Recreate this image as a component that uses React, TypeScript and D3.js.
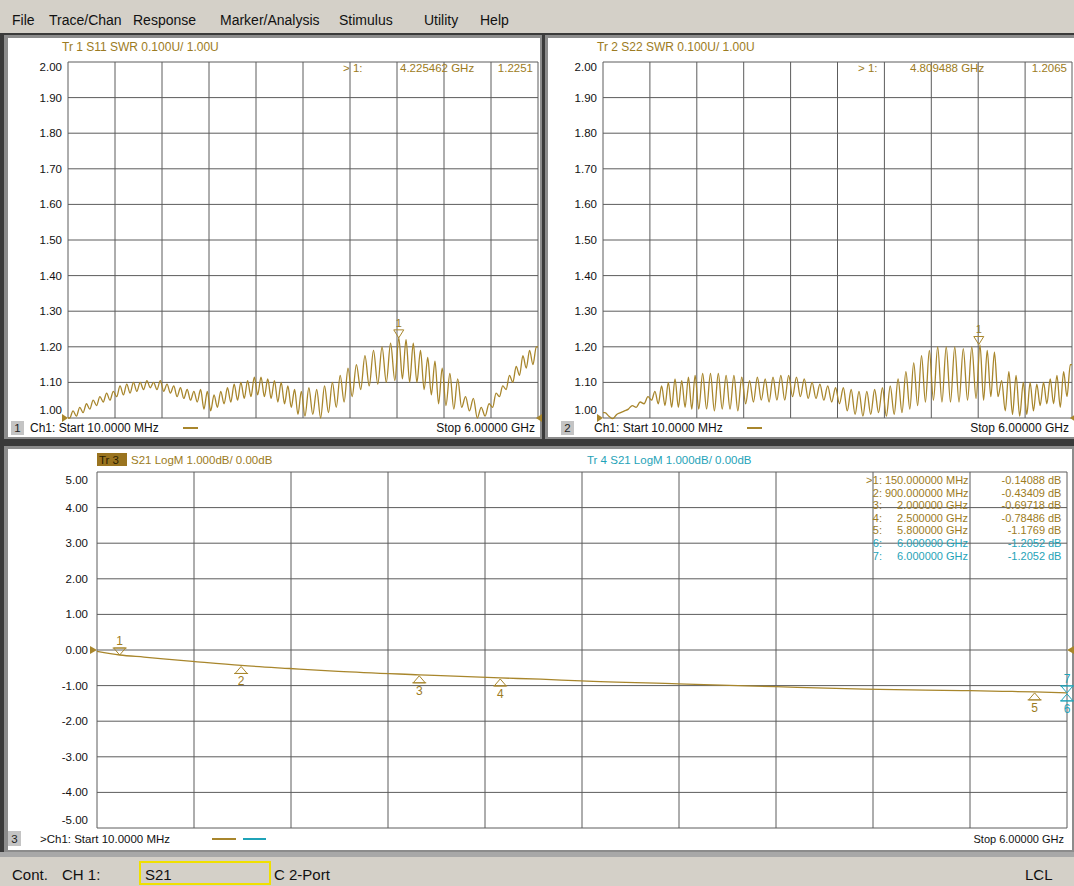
import React from 'react';
import * as d3 from 'd3';

const FONT = "'Liberation Sans', Arial, Helvetica, sans-serif";
const BROWN = '#a8862c';
const BROWN_TXT = '#9c7b22';
const CYAN = '#1fa3b8';
const GRID = '#5c5c5c';

const menuItems = ['File', 'Trace/Chan', 'Response', 'Marker/Analysis', 'Stimulus', 'Utility', 'Help'];

const startGHz = 0.01;
const stopGHz = 6.0;

const swrTicks = [2.0, 1.9, 1.8, 1.7, 1.6, 1.5, 1.4, 1.3, 1.2, 1.1, 1.0];
const dbTicks = [5, 4, 3, 2, 1, 0, -1, -2, -3, -4, -5];

// S11 SWR: peaks / valleys read per grid division
const s11Start = 1.0;
const s11End = 1.2;
const s11Divs = [
  [1.0, 1.02, 1.005, 1.03, 1.015, 1.04, 1.025, 1.05, 1.035, 1.06, 1.045, 1.07, 1.05, 1.075],
  [1.06, 1.09, 1.065, 1.095, 1.07, 1.1, 1.075, 1.1, 1.08, 1.105, 1.085, 1.1, 1.08, 1.105],
  [1.075, 1.095, 1.07, 1.09, 1.06, 1.085, 1.055, 1.08, 1.05, 1.075, 1.045, 1.08, 1.025, 1.075],
  [1.02, 1.065, 1.03, 1.075, 1.04, 1.085, 1.045, 1.095, 1.05, 1.1, 1.055, 1.105, 1.06, 1.115],
  [1.065, 1.115, 1.06, 1.11, 1.055, 1.105, 1.045, 1.1, 1.04, 1.09, 1.03, 1.08, 1.01, 1.075],
  [1.005, 1.085, 1.01, 1.08, 1.0, 1.09, 1.015, 1.1, 1.03, 1.12, 1.045, 1.14],
  [1.06, 1.15, 1.08, 1.175, 1.09, 1.19, 1.095, 1.2, 1.1, 1.21, 1.105],
  [1.225, 1.11, 1.22, 1.1, 1.21, 1.1, 1.19, 1.08, 1.17, 1.065, 1.16, 1.04, 1.14],
  [1.035, 1.125, 1.025, 1.11, 1.03, 1.06, 1.02, 1.055, 1.0, 1.03, 1.005, 1.04],
  [1.03, 1.07, 1.06, 1.09, 1.08, 1.12, 1.1, 1.145, 1.12, 1.175, 1.14, 1.19, 1.15, 1.2],
];

// S22 SWR
const s22Start = 1.015;
const s22End = 1.15;
const s22Divs = [
  [1.015, 1.005, 0.998, 1.01, 1.015, 1.02, 1.025, 1.035, 1.03, 1.045, 1.04, 1.06],
  [1.05, 1.075, 1.04, 1.09, 1.035, 1.1, 1.03, 1.11, 1.03, 1.105, 1.03, 1.115, 1.025, 1.12],
  [1.025, 1.125, 1.025, 1.125, 1.02, 1.125, 1.025, 1.12, 1.025, 1.12, 1.02, 1.115],
  [1.04, 1.105, 1.045, 1.115, 1.05, 1.11, 1.045, 1.115, 1.05, 1.12, 1.05, 1.12],
  [1.06, 1.115, 1.06, 1.11, 1.055, 1.1, 1.055, 1.095, 1.05, 1.09, 1.045, 1.085],
  [1.04, 1.085, 1.02, 1.08, 1.01, 1.075, 1.005, 1.075, 1.01, 1.08, 1.015, 1.085],
  [1.005, 1.09, 1.01, 1.11, 1.015, 1.13, 1.025, 1.155, 1.035, 1.175, 1.045, 1.19],
  [1.05, 1.2, 1.045, 1.2, 1.045, 1.2, 1.045, 1.195, 1.05, 1.2, 1.055],
  [1.205, 1.05, 1.19, 1.06, 1.185, 1.06, 1.105, 1.02, 1.13, 1.01, 1.12, 1.005, 1.1],
  [1.01, 1.1, 1.02, 1.095, 1.035, 1.1, 1.04, 1.11, 1.04, 1.12, 1.03, 1.13, 1.06, 1.15],
];

// S21 LogM trace
const s21Freq = [0.01, 0.15, 0.3, 0.6, 0.9, 1.2, 1.5, 2.0, 2.5, 2.75, 3.0, 3.6, 4.2, 4.75, 5.35, 5.6, 5.8, 6.0];
const s21Db = [-0.04, -0.14, -0.2, -0.32, -0.434, -0.52, -0.6, -0.697, -0.785, -0.82, -0.87, -0.95, -1.03, -1.1, -1.14, -1.16, -1.177, -1.205];

// markers
const s11MarkerGHz = 4.225462;
const s11MarkerVal = 1.2251;
const s22MarkerGHz = 4.809488;
const s22MarkerVal = 1.2065;

const mkIdx = ['1', '2', '3', '4', '5', '6', '7'];
const mkFreqTxt = ['150.000000', '900.000000', '2.000000', '2.500000', '5.800000', '6.000000', '6.000000'];
const mkUnit = ['MHz', 'MHz', 'GHz', 'GHz', 'GHz', 'GHz', 'GHz'];
const mkValTxt = ['-0.14088', '-0.43409', '-0.69718', '-0.78486', '-1.1769', '-1.2052', '-1.2052'];
const mkGHz = [0.15, 0.9, 2.0, 2.5, 5.8, 6.0, 6.0];
const mkDb = [-0.14088, -0.43409, -0.69718, -0.78486, -1.1769, -1.2052, -1.2052];
const mkTrace = [3, 3, 3, 3, 3, 4, 4];
const mkAbove = [true, false, false, false, false, false, true];

function buildPts(start: number, divs: number[][], end: number): [number, number][] {
  const step = (stopGHz - startGHz) / divs.length;
  const pts: [number, number][] = [[startGHz, start]];
  divs.forEach((arr, d) => {
    arr.forEach((v, i) => {
      pts.push([startGHz + (d + (i + 0.5) / arr.length) * step, v]);
    });
  });
  pts.push([stopGHz, end]);
  return pts;
}

type SwrProps = {
  plotL: number;
  plotR: number;
  title: string;
  pts: [number, number][];
  mGHz: number;
  mVal: number;
  panelNo: string;
  boxX: number;
  chX: number;
  readX: number;
  freqX: number;
};

function SwrPanel(p: SwrProps) {
  const top = 62;
  const bot = 418;
  const x = d3.scaleLinear().domain([startGHz, stopGHz]).range([p.plotL, p.plotR]);
  const y = d3.scaleLinear().domain([1, 2]).range([bot, top]);
  const line = d3
    .line<[number, number]>()
    .x((d) => x(d[0]))
    .y((d) => y(Math.max(0.995, d[1])))
    .curve(d3.curveMonotoneX);
  const vLines = d3.range(0, 11).map((i) => p.plotL + ((p.plotR - p.plotL) * i) / 10);
  const mx = x(p.mGHz);
  const my = y(p.mVal);
  return (
    <g>
      <text x={p.plotL - 6} y={51} fontSize={12} fill={BROWN_TXT} fontFamily={FONT}>
        {p.title}
      </text>
      {swrTicks.map((t) => (
        <line key={'h' + t} x1={p.plotL} x2={p.plotR} y1={y(t)} y2={y(t)} stroke={GRID} strokeWidth={1} />
      ))}
      {vLines.map((vx, i) => (
        <line key={'v' + i} x1={vx} x2={vx} y1={top} y2={bot} stroke={GRID} strokeWidth={1} />
      ))}
      {swrTicks.map((t) => (
        <text
          key={'l' + t}
          x={p.plotL - 6}
          y={Math.min(bot - 4, Math.max(top + 9, y(t) + 4))}
          fontSize={11.5}
          textAnchor="end"
          fontFamily={FONT}
          fill="#111"
        >
          {t.toFixed(2)}
        </text>
      ))}
      <path d={line(p.pts) || ''} fill="none" stroke={BROWN} strokeWidth={1.3} />
      {/* reference arrows */}
      <path d={`M${p.plotL - 6},${bot - 4} L${p.plotL},${bot} L${p.plotL - 6},${bot + 4} Z`} fill={BROWN} />
      <path d={`M${p.plotR + 4},${bot - 4} L${p.plotR - 2},${bot} L${p.plotR + 4},${bot + 4} Z`} fill={BROWN} />
      {/* marker */}
      <path d={`M${mx - 5},${my - 8} L${mx + 5},${my - 8} L${mx},${my} Z`} fill="none" stroke={BROWN} strokeWidth={1} />
      <text x={mx} y={my - 11} fontSize={11} textAnchor="middle" fill={BROWN_TXT} fontFamily={FONT}>
        1
      </text>
      {/* marker readout */}
      <text x={p.readX} y={72} fontSize={11.5} fill={BROWN_TXT} fontFamily={FONT}>
        {'>  1:'}
      </text>
      <text x={p.freqX} y={72} fontSize={11.5} fill={BROWN_TXT} fontFamily={FONT}>
        {p.mGHz.toFixed(6) + ' GHz'}
      </text>
      <text x={p.plotR - 5} y={72} fontSize={11.5} textAnchor="end" fill={BROWN_TXT} fontFamily={FONT}>
        {p.mVal.toFixed(4)}
      </text>
      {/* footer */}
      <rect x={p.boxX} y={421} width={13} height={14} fill="#c4c4c4" />
      <text x={p.boxX + 6.5} y={432} fontSize={11.5} textAnchor="middle" fill="#222" fontFamily={FONT}>
        {p.panelNo}
      </text>
      <text x={p.chX} y={432} fontSize={12} fill="#111" fontFamily={FONT}>
        Ch1: Start  10.0000 MHz
      </text>
      <line x1={p.chX + 153} x2={p.chX + 168} y1={428} y2={428} stroke={BROWN} strokeWidth={2} />
      <text x={p.plotR - 3} y={432} fontSize={12} textAnchor="end" fill="#111" fontFamily={FONT}>
        Stop  6.00000 GHz
      </text>
    </g>
  );
}

function S21Panel() {
  const plotL = 97;
  const plotR = 1067;
  const top = 472;
  const bot = 828;
  const x = d3.scaleLinear().domain([startGHz, stopGHz]).range([plotL, plotR]);
  const y = d3.scaleLinear().domain([-5, 5]).range([bot, top]);
  const pts = s21Freq.map((f, i) => [f, s21Db[i]] as [number, number]);
  const line = d3
    .line<[number, number]>()
    .x((d) => x(d[0]))
    .y((d) => y(d[1]))
    .curve(d3.curveMonotoneX);
  const vLines = d3.range(0, 11).map((i) => plotL + ((plotR - plotL) * i) / 10);
  const rowY0 = 484;
  const rowH = 12.6;
  return (
    <g>
      <rect x={plotL} y={453} width={30} height={13} fill="#9a7420" />
      <text x={plotL + 2} y={463.5} fontSize={11.5} fill="#2a1e00" fontFamily={FONT}>
        Tr 3
      </text>
      <text x={plotL + 34} y={463.5} fontSize={11.5} fill={BROWN_TXT} fontFamily={FONT}>
        S21 LogM 1.000dB/  0.00dB
      </text>
      <text x={587} y={463.5} fontSize={11.5} fill={CYAN} fontFamily={FONT}>
        Tr 4  S21 LogM 1.000dB/  0.00dB
      </text>
      {dbTicks.map((t) => (
        <line key={'h' + t} x1={plotL} x2={plotR} y1={y(t)} y2={y(t)} stroke={GRID} strokeWidth={1} />
      ))}
      {vLines.map((vx, i) => (
        <line key={'v' + i} x1={vx} x2={vx} y1={top} y2={bot} stroke={GRID} strokeWidth={1} />
      ))}
      {dbTicks.map((t) => (
        <text
          key={'l' + t}
          x={plotL - 9}
          y={Math.min(bot - 4, Math.max(top + 12, y(t) + 4))}
          fontSize={11.5}
          textAnchor="end"
          fontFamily={FONT}
          fill="#111"
        >
          {t.toFixed(2)}
        </text>
      ))}
      <path d={line(pts) || ''} fill="none" stroke={BROWN} strokeWidth={1.3} />
      {/* reference arrows at 0 dB */}
      <path d={`M${plotL - 7},${y(0) - 4} L${plotL},${y(0)} L${plotL - 7},${y(0) + 4} Z`} fill={BROWN} />
      <path d={`M${plotR + 7},${y(0) - 4} L${plotR},${y(0)} L${plotR + 7},${y(0) + 4} Z`} fill={BROWN} />
      {/* markers */}
      {mkGHz.map((f, i) => {
        const mx = x(f);
        const my = y(mkDb[i]);
        const col = mkTrace[i] === 3 ? BROWN : CYAN;
        const tcol = mkTrace[i] === 3 ? BROWN_TXT : CYAN;
        return mkAbove[i] ? (
          <g key={'m' + i}>
            <path d={`M${mx - 6},${my - 7} L${mx + 6},${my - 7} L${mx},${my} Z`} fill="none" stroke={col} strokeWidth={1} />
            <line x1={mx - 7} x2={mx + 7} y1={my - 7} y2={my - 7} stroke={col} strokeWidth={1} />
            <text x={mx} y={my - 10} fontSize={12} textAnchor="middle" fill={tcol} fontFamily={FONT}>
              {mkIdx[i]}
            </text>
          </g>
        ) : (
          <g key={'m' + i}>
            <path d={`M${mx - 6},${my + 8} L${mx + 6},${my + 8} L${mx},${my + 1} Z`} fill="none" stroke={col} strokeWidth={1} />
            <line x1={mx - 7} x2={mx + 7} y1={my + 8} y2={my + 8} stroke={col} strokeWidth={1} />
            <text x={mx} y={my + 20} fontSize={12} textAnchor="middle" fill={tcol} fontFamily={FONT}>
              {mkIdx[i]}
            </text>
          </g>
        );
      })}
      {/* marker table */}
      {mkIdx.map((m, i) => {
        const ty = rowY0 + i * rowH;
        const tcol = mkTrace[i] === 3 ? BROWN_TXT : CYAN;
        return (
          <g key={'r' + i} fontFamily={FONT} fontSize={11} fill={tcol}>
            {i === 0 && (
              <text x={866} y={ty}>
                {'>'}
              </text>
            )}
            <text x={882} y={ty} textAnchor="end">
              {m + ':'}
            </text>
            <text x={943} y={ty} textAnchor="end">
              {mkFreqTxt[i]}
            </text>
            <text x={946} y={ty}>
              {mkUnit[i]}
            </text>
            <text x={1045} y={ty} textAnchor="end">
              {mkValTxt[i]}
            </text>
            <text x={1048} y={ty}>
              dB
            </text>
          </g>
        );
      })}
      {/* footer */}
      <rect x={8} y={831} width={13} height={15} fill="#c4c4c4" />
      <text x={14.5} y={843} fontSize={11.5} textAnchor="middle" fill="#222" fontFamily={FONT}>
        3
      </text>
      <text x={40} y={843} fontSize={11.5} fill="#111" fontFamily={FONT}>
        {'>Ch1: Start  10.0000 MHz'}
      </text>
      <line x1={212} x2={236} y1={839} y2={839} stroke={BROWN} strokeWidth={2} />
      <line x1={243} x2={266} y1={839} y2={839} stroke={CYAN} strokeWidth={2} />
      <text x={plotR - 3} y={843} fontSize={11} textAnchor="end" fill="#111" fontFamily={FONT}>
        Stop  6.00000 GHz
      </text>
    </g>
  );
}

export default function App() {
  const W = 1074;
  const H = 886;
  const menuX = [12, 49, 133, 220, 339, 424, 480];
  const s11Pts = buildPts(s11Start, s11Divs, s11End);
  const s22Pts = buildPts(s22Start, s22Divs, s22End);
  return (
    <svg
      width={W}
      height={H}
      viewBox={`0 0 ${W} ${H}`}
      style={{ position: 'absolute', left: 0, top: 0, display: 'block' }}
    >
      <rect x={0} y={0} width={W} height={H} fill="#d4d0c8" />
      {/* menu bar */}
      {menuItems.map((m, i) => (
        <text key={m} x={menuX[i]} y={25} fontSize={14} fill="#111" fontFamily={FONT}>
          {m}
        </text>
      ))}
      {/* window frame area */}
      <rect x={0} y={33} width={W} height={820} fill="#3a3a3a" />
      <rect x={4} y={35} width={538} height={404} fill="#8c8c8c" />
      <rect x={545} y={35} width={529} height={404} fill="#8c8c8c" />
      <rect x={4} y={446} width={1070} height={406} fill="#8c8c8c" />
      <rect x={8} y={38} width={532} height={399} fill="#ffffff" />
      <rect x={548} y={38} width={526} height={399} fill="#ffffff" />
      <rect x={8} y={449} width={1064} height={401} fill="#ffffff" />
      <rect x={0} y={852} width={W} height={5} fill="#a8a8a8" />

      <SwrPanel
        plotL={68}
        plotR={538}
        title="Tr 1  S11 SWR 0.100U/  1.00U"
        pts={s11Pts}
        mGHz={s11MarkerGHz}
        mVal={s11MarkerVal}
        panelNo="1"
        boxX={11}
        chX={30}
        readX={343}
        freqX={400}
      />
      <SwrPanel
        plotL={603}
        plotR={1072}
        title="Tr 2  S22 SWR 0.100U/  1.00U"
        pts={s22Pts}
        mGHz={s22MarkerGHz}
        mVal={s22MarkerVal}
        panelNo="2"
        boxX={561}
        chX={594}
        readX={858}
        freqX={910}
      />
      <S21Panel />

      {/* status bar */}
      <text x={12} y={880} fontSize={15} fill="#111" fontFamily={FONT}>
        Cont.
      </text>
      <text x={62} y={880} fontSize={15} fill="#111" fontFamily={FONT}>
        CH 1:
      </text>
      <rect x={140} y={862} width={130} height={22} fill="none" stroke="#f0e000" strokeWidth={2} />
      <text x={145} y={880} fontSize={15} fill="#111" fontFamily={FONT}>
        S21
      </text>
      <text x={274} y={880} fontSize={15} fill="#111" fontFamily={FONT}>
        C 2-Port
      </text>
      <text x={1025} y={880} fontSize={15} fill="#111" fontFamily={FONT}>
        LCL
      </text>
    </svg>
  );
}
